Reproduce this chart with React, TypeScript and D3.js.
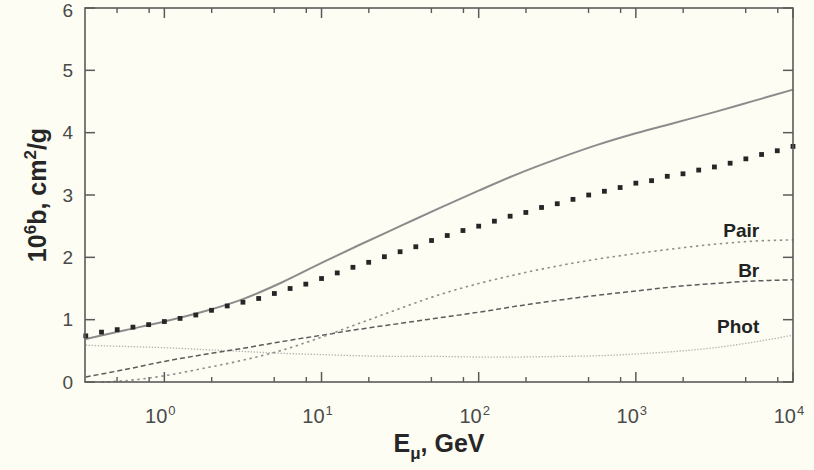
import React from "react";
import * as d3 from "d3";

// Muon energy-loss coefficients b (units 1e-6 cm^2/g) versus muon energy.
// Energies are stored as log10(E / GeV).
const curveLogE = [-0.5, -0.25, 0, 0.25, 0.5, 0.75, 1, 1.25, 1.5, 1.75, 2, 2.25, 2.5, 2.75, 3, 3.25, 3.5, 3.75, 4];

const totalB = [0.69, 0.83, 0.97, 1.13, 1.33, 1.6, 1.91, 2.21, 2.5, 2.79, 3.07, 3.34, 3.58, 3.8, 3.99, 4.16, 4.33, 4.51, 4.69];
const pairB = [null, 0.02, 0.1, 0.22, 0.35, 0.51, 0.72, 0.95, 1.18, 1.4, 1.58, 1.73, 1.86, 1.97, 2.06, 2.14, 2.21, 2.26, 2.28];
const bremB = [0.08, 0.2, 0.33, 0.44, 0.54, 0.65, 0.75, 0.85, 0.94, 1.03, 1.12, 1.22, 1.31, 1.39, 1.46, 1.53, 1.58, 1.62, 1.64];
const photB = [0.59, 0.57, 0.55, 0.52, 0.49, 0.46, 0.44, 0.42, 0.41, 0.41, 0.4, 0.4, 0.41, 0.42, 0.45, 0.49, 0.55, 0.64, 0.75];
const pairStart = { logE: -0.4, b: 0.0 };

// Square-marker series, sampled every 0.1 in log10(E)
const markerLogE = [
  -0.5, -0.4, -0.3, -0.2, -0.1, 0, 0.1, 0.2, 0.3, 0.4, 0.5, 0.6, 0.7, 0.8, 0.9, 1.0,
  1.1, 1.2, 1.3, 1.4, 1.5, 1.6, 1.7, 1.8, 1.9, 2.0, 2.1, 2.2, 2.3, 2.4, 2.5, 2.6,
  2.7, 2.8, 2.9, 3.0, 3.1, 3.2, 3.3, 3.4, 3.5, 3.6, 3.7, 3.8, 3.9, 4.0,
];
const markerB = [
  0.74, 0.8, 0.84, 0.88, 0.92, 0.97, 1.02, 1.075, 1.15, 1.22, 1.28, 1.34, 1.42, 1.5, 1.57, 1.66,
  1.75, 1.84, 1.92, 2.01, 2.09, 2.17, 2.27, 2.35, 2.43, 2.5, 2.58, 2.66, 2.72, 2.8, 2.86, 2.93,
  3.0, 3.06, 3.12, 3.19, 3.23, 3.3, 3.34, 3.4, 3.45, 3.51, 3.58, 3.65, 3.71, 3.78,
];

const yTicks = [0, 1, 2, 3, 4, 5, 6];
const xMajorExp = [0, 1, 2, 3, 4];
const xMinorMantissa = [2, 5, 8];
const curveLabels = [
  { text: "Pair", logE: 3.62, b: 2.33 },
  { text: "Br", logE: 3.62, b: 1.68 },
  { text: "Phot", logE: 3.62, b: 0.79 },
];

const W = 814;
const H = 470;
const margin = { left: 85, right: 21, top: 8, bottom: 88 };
const BG = "#fdfdf3";
const FONT = "'Liberation Sans', Arimo, Arial, Helvetica, sans-serif";

export default function App() {
  const x = d3
    .scaleLog()
    .domain([Math.pow(10, -0.505), 1e4])
    .range([margin.left, W - margin.right]);
  const y = d3.scaleLinear().domain([0, 6]).range([H - margin.bottom, margin.top]);

  const x0 = margin.left;
  const x1 = W - margin.right;
  const y0 = H - margin.bottom;
  const y1 = margin.top;

  type P = { e: number; v: number };
  const line = d3
    .line<P>()
    .x((d) => x(d.e))
    .y((d) => y(d.v))
    .curve(d3.curveCatmullRom.alpha(0.5));

  const toPts = (vals: (number | null)[]): P[] =>
    curveLogE
      .map((l, i) => ({ e: Math.pow(10, l), v: vals[i] as number }))
      .filter((d, i) => vals[i] !== null);

  const pairPts = [{ e: Math.pow(10, pairStart.logE), v: pairStart.b }, ...toPts(pairB)];

  const minorTicks: number[] = [];
  for (let k = -1; k <= 3; k++) {
    for (const m of xMinorMantissa) {
      const v = m * Math.pow(10, k);
      const [lo, hi] = x.domain();
      if (v > lo && v < hi) minorTicks.push(v);
    }
  }

  const axisColor = "#5a5a5a";
  const majorLen = 10;
  const minorLen = 5;

  return (
    <svg
      width={W}
      height={H}
      style={{ position: "absolute", left: 0, top: 0, background: BG }}
      fontFamily={FONT}
    >
      <rect x={0} y={0} width={W} height={H} fill={BG} />

      {/* curves */}
      <path d={line(toPts(photB)) || ""} fill="none" stroke="#b4b4b4" strokeWidth={1.3} strokeDasharray="1.4 1.6" />
      <path d={line(toPts(bremB)) || ""} fill="none" stroke="#5c5c5c" strokeWidth={1.5} strokeDasharray="5 3" />
      <path d={line(pairPts) || ""} fill="none" stroke="#8e8e8e" strokeWidth={1.6} strokeDasharray="2.4 3.6" />
      <path d={line(toPts(totalB)) || ""} fill="none" stroke="#8c8c8c" strokeWidth={2} />

      {/* square markers */}
      {markerLogE.map((l, i) => (
        <rect
          key={i}
          x={x(Math.pow(10, l)) - 2.4}
          y={y(markerB[i]) - 2.4}
          width={4.8}
          height={4.8}
          fill="#262626"
        />
      ))}

      {/* frame */}
      <rect x={x0} y={y1} width={x1 - x0} height={y0 - y1} fill="none" stroke={axisColor} strokeWidth={1.6} />

      {/* y ticks (left and right) */}
      {yTicks.map((t) => (
        <g key={t}>
          <line x1={x0} x2={x0 + majorLen} y1={y(t)} y2={y(t)} stroke={axisColor} strokeWidth={1.5} />
          <line x1={x1} x2={x1 - majorLen} y1={y(t)} y2={y(t)} stroke={axisColor} strokeWidth={1.5} />
          <text x={x0 - 12} y={Math.max(y(t), 10)} dy="0.35em" textAnchor="end" fontSize={19} fill="#4a4a4a">
            {t}
          </text>
        </g>
      ))}

      {/* x ticks (bottom and top) */}
      {xMajorExp.map((k) => {
        const px = x(Math.pow(10, k));
        return (
          <g key={k}>
            <line x1={px} x2={px} y1={y0} y2={y0 - majorLen} stroke={axisColor} strokeWidth={1.5} />
            <line x1={px} x2={px} y1={y1} y2={y1 + majorLen} stroke={axisColor} strokeWidth={1.5} />
            <text x={px - 4} y={y0 + 41} textAnchor="middle" fontSize={20} fill="#4a4a4a">
              10
              <tspan dx={1} dy={-8} fontSize={13}>
                {k}
              </tspan>
            </text>
          </g>
        );
      })}
      {minorTicks.map((v, i) => {
        const px = x(v);
        return (
          <g key={i}>
            <line x1={px} x2={px} y1={y0} y2={y0 - minorLen} stroke={axisColor} strokeWidth={1.4} />
            <line x1={px} x2={px} y1={y1} y2={y1 + minorLen} stroke={axisColor} strokeWidth={1.4} />
          </g>
        );
      })}

      {/* curve labels */}
      {curveLabels.map((c) => (
        <text
          key={c.text}
          x={x(Math.pow(10, c.logE)) + 26}
          y={y(c.b)}
          textAnchor="end"
          fontSize={19}
          fontWeight="bold"
          fill="#222"
        >
          {c.text}
        </text>
      ))}

      {/* axis titles */}
      <text x={(x0 + x1) / 2} y={452} textAnchor="middle" fontSize={25} fontWeight="bold" fill="#262626">
        E
        <tspan dy={7} fontSize={17}>
          μ
        </tspan>
        <tspan dy={-7}>, GeV</tspan>
      </text>
      <text
        transform={`translate(46, ${(y0 + y1) / 2}) rotate(-90)`}
        textAnchor="middle"
        fontSize={25}
        fontWeight="bold"
        fill="#262626"
      >
        10
        <tspan dy={-10} fontSize={17}>
          6
        </tspan>
        <tspan dy={10}>b, cm</tspan>
        <tspan dy={-10} fontSize={17}>
          2
        </tspan>
        <tspan dy={10}>/g</tspan>
      </text>
    </svg>
  );
}
